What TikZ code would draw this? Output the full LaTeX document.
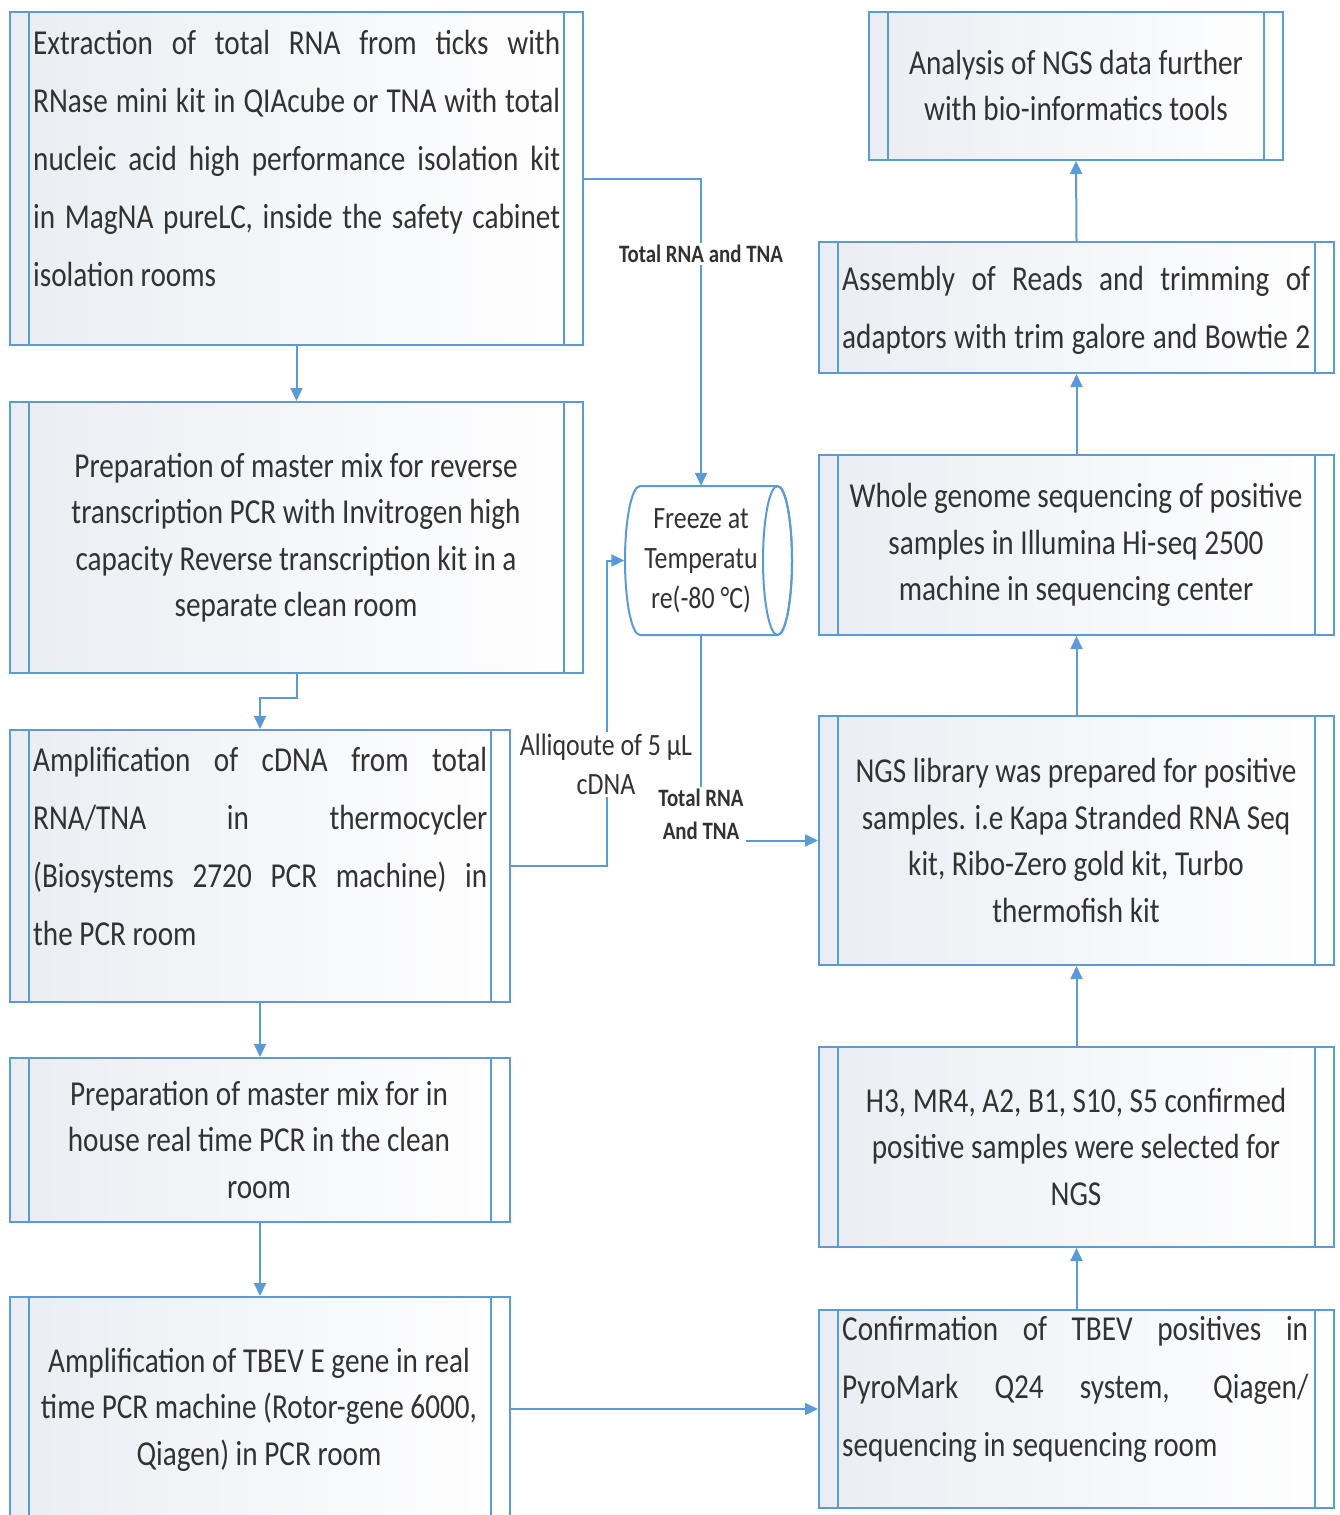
\documentclass[tikz,border=0pt]{standalone}
\usepackage{fontspec}
\setmainfont{Carlito}[FakeStretch=0.835]
\usetikzlibrary{arrows.meta}
\definecolor{boxblue}{RGB}{91,155,213}
\definecolor{txtgrey}{RGB}{50,50,50}
\definecolor{shadegrey}{RGB}{234,237,243}
\newcommand\jl[2]{\makebox[#1][s]{#2}}
\newcommand\natsp{\spaceskip=0pt\xspaceskip=0pt\relax}
\begin{document}
\begin{tikzpicture}[x=1pt,y=-1pt,
  proc/.style={draw=boxblue, line width=2pt, left color=shadegrey, right color=white, inner sep=0pt,
    path picture={\draw[boxblue,line width=2pt]
      ([xshift=19pt]path picture bounding box.north west) -- ([xshift=19pt]path picture bounding box.south west)
      ([xshift=-19pt]path picture bounding box.north east) -- ([xshift=-19pt]path picture bounding box.south east);}},
  ctext/.style={text=txtgrey, align=center, font=\fontsize{35}{46.5}\selectfont, inner sep=0pt},
  jtext/.style={text=txtgrey, align=left, font=\fontsize{35}{58}\selectfont, inner sep=0pt, anchor=west},
  lbl/.style={fill=white, text=txtgrey, align=center, inner sep=2pt},
  arr/.style={draw=boxblue, line width=2pt, -{Triangle[length=13pt,width=12pt]}}
]
\useasboundingbox (0,0) rectangle (1339,1515);
\clip (0,0) rectangle (1339,1515);

% left column boxes
\node[proc, minimum width=573pt, minimum height=333pt] (b1) at (296.5,178.5) {};
\node[proc, minimum width=573pt, minimum height=271pt] (b2) at (296.5,537.5) {};
\node[proc, minimum width=500pt, minimum height=272pt] (b3) at (260,866) {};
\node[proc, minimum width=500pt, minimum height=164pt] (b4) at (260,1140) {};
\node[proc, minimum width=500pt, minimum height=240pt] (b5) at (260,1417) {};
% right column boxes
\node[proc, minimum width=414pt, minimum height=148pt] (bA) at (1076,86) {};
\node[proc, minimum width=515pt, minimum height=131pt] (bB) at (1076.5,307.5) {};
\node[proc, minimum width=515pt, minimum height=180pt] (bC) at (1076.5,545) {};
\node[proc, minimum width=515pt, minimum height=249pt] (bD) at (1076.5,840.5) {};
\node[proc, minimum width=515pt, minimum height=200pt] (bE) at (1076.5,1147) {};
\node[proc, minimum width=515pt, minimum height=198pt] (bF) at (1076.5,1409) {};

% cylinder outline
\filldraw[draw=boxblue, line width=2pt, fill=white]
  (640,486) -- (777.5,486) .. controls (785.5,486) and (792,519.35) .. (792,560.5)
  .. controls (792,601.65) and (785.5,635) .. (777.5,635) -- (640,635)
  .. controls (631.72,635) and (625,601.65) .. (625,560.5)
  .. controls (625,519.35) and (631.72,486) .. cycle;
\draw[boxblue, line width=2pt] (777.5,560.5) ellipse [x radius=14.5pt, y radius=74.5pt];
\node[text=txtgrey, align=center, font=\fontsize{31}{40}\selectfont, inner sep=0pt,
  minimum width=153pt, minimum height=149pt] (cyl) at (701,560.5) {Freeze at\\Temperatu\\re(-80 °C)};

% texts
\node[jtext, text width=527pt] (t1) at (33,158) {\natsp\jl{527pt}{Extraction of total RNA from ticks with}\\
  \jl{527pt}{RNase mini kit in QIAcube or TNA with total}\\
  \jl{527pt}{nucleic acid high performance isolation kit}\\
  \jl{527pt}{in MagNA pureLC, inside the safety cabinet}\\
  isolation rooms};
\node[ctext] (t2) at (296,537.5) {Preparation of master mix for reverse\\transcription PCR with Invitrogen high\\capacity Reverse transcription kit in a\\separate clean room};
\node[jtext, text width=454pt] (t3) at (33,846) {\natsp\jl{454pt}{Amplification of cDNA from total}\\
  \jl{454pt}{RNA/TNA in thermocycler}\\
  \jl{454pt}{(Biosystems 2720 PCR machine) in}\\
  the PCR room};
\node[ctext] (t4) at (259,1140) {Preparation of master mix for in\\house real time PCR in the clean\\room};
\node[ctext] (t5) at (259,1409.5) {Amplification of TBEV E gene in real\\time PCR machine (Rotor-gene 6000,\\Qiagen) in PCR room};
\node[ctext] (tA) at (1076,85.5) {Analysis of NGS data further\\with bio-informatics tools};
\node[jtext, text width=468pt] (tB) at (842,310) {\natsp\jl{468pt}{Assembly of Reads and trimming of}\\
  \jl{468pt}{adaptors with trim galore and Bowtie 2}};
\node[ctext] (tC) at (1076,545) {Whole genome sequencing of positive\\samples in Illumina Hi-seq 2500\\machine in sequencing center};
\node[ctext] (tD) at (1076,840.5) {NGS library was prepared for positive\\samples. i.e Kapa Stranded RNA Seq\\kit, Ribo-Zero gold kit, Turbo\\thermofish kit};
\node[ctext] (tE) at (1076,1146.5) {H3, MR4, A2, B1, S10, S5 confirmed\\positive samples were selected for\\NGS};
\node[jtext, text width=466pt] (tF) at (842,1389) {\natsp\jl{466pt}{Confirmation of TBEV positives in}\\
  \jl{466pt}{PyroMark Q24 system, Qiagen/}\\
  sequencing in sequencing room};

% connectors
\draw[arr] (b1.south) -- (b2.north);
\draw[arr] (b2.south) -- ++(0,24) -| (b3.north);
\draw[arr] (b3.south) -- (b4.north);
\draw[arr] (b4.south) -- (b5.north);
\draw[arr] (b5.east |- bF.west) -- (bF.west);
\draw[arr] (bF.north) -- (bE.south);
\draw[arr] (bE.north) -- (bD.south);
\draw[arr] (bD.north) -- (bC.south);
\draw[arr] (bC.north) -- (bB.south);
\draw[arr] (bB.north) -- (bA.south);
\draw[arr] (b1.east) -| (cyl.north);
\draw[arr] (b3.east) -- ++(96,0) |- (cyl.west);
\draw[arr] (cyl.south) |- (bD.west);

% labels
\node[lbl, font=\bfseries\fontsize{25}{30}\selectfont] (l1) at (701,254) {Total RNA and TNA};
\node[lbl, font=\fontsize{31}{39}\selectfont] (l2) at (606,764.5) {Alliqoute of 5 μL\\cDNA};
\node[lbl, font=\bfseries\fontsize{25}{33}\selectfont] (l3) at (701,814.5) {Total RNA\\And TNA};
\end{tikzpicture}
\end{document}
